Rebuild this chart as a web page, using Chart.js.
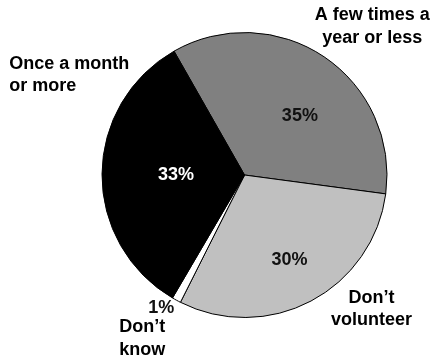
<!DOCTYPE html>
<html>
<head>
<meta charset="utf-8">
<script src="https://cdn.jsdelivr.net/npm/chart.js@4/dist/chart.umd.min.js"></script>
<style>
  html, body { margin: 0; padding: 0; background: #fff; }
  #wrap { width: 435px; height: 360px; position: relative; }
</style>
</head>
<body>
<div id="wrap"><canvas id="pie"></canvas></div>
<script>
// slices, clockwise from the top-left
const categories = ["A few times a\nyear or less", "Don't\nvolunteer", "1%\nDon't\nknow", "Once a month\nor more"];
const shares = [35, 30, 1, 33];
const pctLabels = ["35%", "30%", "1%", "33%"];
const catLabels = [["A few times a", "year or less"], ["Don\u2019t", "volunteer"], ["Don\u2019t", "know"], ["Once a month", "or more"]];
const sliceColors = ["#808080", "#c0c0c0", "#ffffff", "#000000"];

// where to put the texts: fraction of radius, shift from mid angle (deg)
const pctPlace = [
    { f: 0.57, da: 9, color: "#111" },
    { f: 0.675, da: 0, color: "#111" },
    { f: 1.1, da: 3.5, color: "#111" },
    { f: 0.48, da: 0, color: "#fff" }
];
const catPlace = [
    { f: 1.375, da: 6.7, align: "center" },
    { f: 1.295, da: -15.7, align: "center" },
    { f: 1.354, da: 3.5, align: "center" },
    { f: 1.795, da: 22.7, align: "left" }
];

const FONT = "bold 18px 'Liberation Sans', Arial, sans-serif";
const LINE = 22.5;

const labelPlugin = {
    id: "pieLabels",
    afterDatasetsDraw(chart) {
        const ctx = chart.ctx;
        const arcs = chart.getDatasetMeta(0).data;
        ctx.save();
        ctx.font = FONT;
        ctx.textBaseline = "middle";
        arcs.forEach((arc, i) => {
            const p = arc.getProps(["x", "y", "startAngle", "endAngle", "outerRadius"], true);
            const mid = (p.startAngle + p.endAngle) / 2;

            // percentage
            let a = mid + pctPlace[i].da * Math.PI / 180;
            let d = pctPlace[i].f * p.outerRadius;
            ctx.fillStyle = pctPlace[i].color;
            ctx.textAlign = "center";
            ctx.fillText(pctLabels[i], p.x + Math.cos(a) * d, p.y + Math.sin(a) * d);

            // category name
            a = mid + catPlace[i].da * Math.PI / 180;
            d = catPlace[i].f * p.outerRadius;
            const cx = p.x + Math.cos(a) * d;
            const cy = p.y + Math.sin(a) * d;
            const lines = catLabels[i];
            ctx.fillStyle = "#000";
            ctx.textAlign = catPlace[i].align;
            lines.forEach((t, k) => {
                ctx.fillText(t, cx, cy + (k - (lines.length - 1) / 2) * LINE);
            });
        });
        ctx.restore();
    }
};

new Chart(document.getElementById("pie"), {
    type: "pie",
    data: {
        labels: categories,
        datasets: [{
            data: shares,
            backgroundColor: sliceColors,
            borderColor: "#000",
            borderWidth: 1
        }]
    },
    options: {
        responsive: true,
        maintainAspectRatio: false,
        animation: false,
        rotation: -29.65,
        layout: {
            padding: { top: 32, bottom: 42, left: 80, right: 26 }
        },
        plugins: {
            legend: { display: false },
            tooltip: { enabled: false }
        }
    },
    plugins: [labelPlugin]
});
</script>
</body>
</html>
